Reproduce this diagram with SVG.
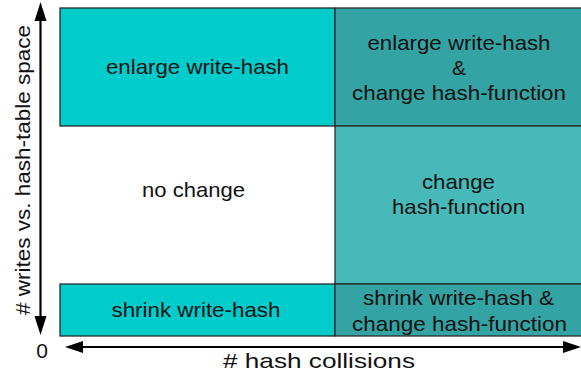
<svg xmlns="http://www.w3.org/2000/svg" width="581" height="375" viewBox="0 0 581 375">
<defs>
<style>
.cell{stroke:#2a2a2a;stroke-width:1.3}
.lt{fill:#00CCCC}
.dk{fill:#33A3A3}
.md{fill:#47B9B9}
text{font-family:"Liberation Sans",Arial,sans-serif;font-size:21px;fill:#111;text-anchor:middle}
.ax{stroke:#000;stroke-width:2.2;fill:none}
.hd{fill:#000}
</style>
</defs>
<g id="cell-enlarge">
<rect class="cell lt" x="60" y="8" width="275" height="118"/>
<text x="197.5" y="74" textLength="183" lengthAdjust="spacingAndGlyphs">enlarge write-hash</text>
</g>
<g id="cell-enlarge-change">
<rect class="cell dk" x="335" y="8" width="252" height="118"/>
<text x="459" y="50" textLength="183" lengthAdjust="spacingAndGlyphs">enlarge write-hash</text>
<text x="459" y="75">&amp;</text>
<text x="459" y="100" textLength="214" lengthAdjust="spacingAndGlyphs">change hash-function</text>
</g>
<g id="cell-nochange">
<text x="193.5" y="197" textLength="103" lengthAdjust="spacingAndGlyphs">no change</text>
</g>
<g id="cell-change">
<rect class="cell md" x="335" y="126" width="252" height="158"/>
<text x="458.5" y="189" textLength="73" lengthAdjust="spacingAndGlyphs">change</text>
<text x="458.5" y="214" textLength="133" lengthAdjust="spacingAndGlyphs">hash-function</text>
</g>
<g id="cell-shrink">
<rect class="cell lt" x="60" y="284" width="275" height="52"/>
<text x="196" y="317" textLength="169" lengthAdjust="spacingAndGlyphs">shrink write-hash</text>
</g>
<g id="cell-shrink-change">
<rect class="cell dk" x="335" y="284" width="252" height="52"/>
<text x="458.5" y="305" textLength="191" lengthAdjust="spacingAndGlyphs">shrink write-hash &amp;</text>
<text x="459.5" y="331" textLength="215" lengthAdjust="spacingAndGlyphs">change hash-function</text>
</g>
<g id="connectors">
<line class="ax" x1="40.5" y1="20" x2="40.5" y2="318"/>
<path class="hd" d="M40.5,2 L46.5,21 L34.5,21 Z"/>
<path class="hd" d="M40.5,335 L46.5,316 L34.5,316 Z"/>
<line class="ax" x1="82" y1="347" x2="564" y2="347"/>
<path class="hd" d="M65,347 L83,341 L83,353 Z"/>
<path class="hd" d="M581,347 L563,341 L563,353 Z"/>
</g>
<g id="labels">
<text x="42" y="358">0</text>
<text x="319" y="368" textLength="192" lengthAdjust="spacingAndGlyphs"># hash collisions</text>
<text transform="translate(30,170) rotate(-90)" x="0" y="0" textLength="290" lengthAdjust="spacingAndGlyphs"># writes vs. hash-table space</text>
</g>
</svg>
